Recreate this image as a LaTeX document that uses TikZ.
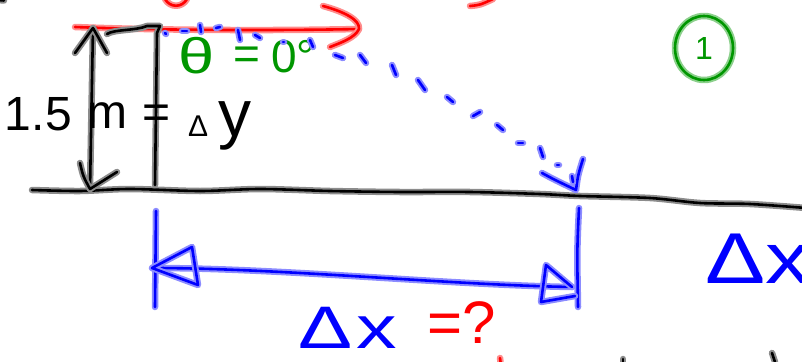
\documentclass[tikz,border=0pt]{standalone}
\usepackage{fontspec}
\setmainfont{Liberation Sans}
\usetikzlibrary{shapes.geometric}
\definecolor{inkblue}{RGB}{0,0,255}
\definecolor{inkred}{RGB}{255,0,0}
\definecolor{inkgreen}{RGB}{0,150,0}
\definecolor{inkblack}{RGB}{0,0,0}
\begin{document}
\begin{tikzpicture}[x=1pt,y=-1pt,
  pen/.style={draw=#1, line width=2.6pt, line cap=round, line join=round,
    preaction={draw=#1!45, line width=6.5pt, line cap=round, line join=round}},
  ink/.style={text=#1, inner sep=0pt, outer sep=0pt},
]
\useasboundingbox (0,0) rectangle (802,361);

% fragments at the edges
\draw[pen=inkred] (165,-1) .. controls (170,8) and (182,8) .. (187,-1);
\draw[pen=inkred] (470,6) .. controls (480,5) .. (493,-1);
\draw[pen=inkred] (500,358) -- (500.5,362);
\draw[pen=inkblack] (623,359) -- (623,362);
\draw[pen=inkblack] (772,353) -- (775,362);
\draw[pen=inkblack] (-2,0) -- (4,0.5);

% red velocity arrow
\coordinate (vStart) at (75,27);
\coordinate (vEnd) at (359,29);
\draw[pen=inkred] (vStart) .. controls (150,30) and (260,31) .. (vEnd);
\draw[pen=inkred] (323,6) .. controls (345,12) and (360,20) .. (vEnd) .. controls (355,38) and (340,43) .. (330,47);

% ground
\draw[pen=inkblack] plot[smooth] coordinates {(32,190) (80,191) (130,189) (200,191) (260,189) (330,191) (400,192) (470,192) (540,194) (580,196) (650,198) (700,203) (750,204) (806,208)};

% height double arrow
\coordinate (hTop) at (93,28);
\coordinate (hBot) at (90,189);
\draw[pen=inkblack] (hTop) -- (hBot);
\draw[pen=inkblack] (75,53) -- (hTop) -- (107,53);
\draw[pen=inkblack] (80,163) .. controls (83,176) .. (hBot) -- (117,172);

% cliff line
\coordinate (cTop) at (160,26);
\coordinate (cBot) at (155,185);
\draw[pen=inkblack] (107,34) .. controls (115,29) and (135,31) .. (147,26) -- (cTop) -- (157,33) -- (cBot);

% height label
\node[ink=inkblack, anchor=base west, font=\fontsize{48}{50}\selectfont] (h15) at (5,130) {1.5};
\node[ink=inkblack, anchor=base, font=\fontsize{48}{50}\selectfont] (hm) at (107,128) {m};
\node[ink=inkblack, anchor=base, font=\fontsize{48}{50}\selectfont] (heq) at (157,128) {=};
\node[ink=inkblack, anchor=base west] (hdy) at (188,136) {{\fontsize{30}{32}\selectfont Δ}\hspace{10pt}{\fontsize{66}{68}\selectfont y}};

% angle label
\node[ink=inkgreen, anchor=base, font=\fontsize{50}{54}\selectfont] (theta) at (197,73) {\scalebox{1.3}[1]{θ}};
\node[ink=inkgreen, anchor=base, font=\fontsize{46}{50}\selectfont] (thetaeq) at (247,70) {=};
\node[ink=inkgreen, anchor=base west, font=\fontsize{46}{50}\selectfont] (zero) at (271,72) {0°};

% circled number
\node[pen=inkgreen, ellipse, minimum width=58pt, minimum height=64pt, inner sep=0pt, text=inkgreen, font=\fontsize{32}{34}\selectfont] (circ) at (704,48) {1};

% blue dotted trajectory
\foreach \a/\b/\c/\d in {165/33/166/34, 182/31/187/31, 200/25/201/32, 216/28/220/27, 238/30/240/40, 255/35/260/38, 283/42/284/42, 310/40/313/47, 335/55/343/58, 360/55/366/63, 392/65/396/75, 418/80/425/90, 447/97/453/102, 473/116/480/112, 497/125/503/130, 518/143/523/143, 540/148/543/157, 557/165/559/165}
  \draw[pen=inkblue] (\a,\b) -- (\c,\d);
\coordinate (land) at (576,190);
\draw[pen=inkblue] (542,173) .. controls (555,180) .. (land) .. controls (578,175) .. (583,159);
\draw[pen=inkblue] (572,176) -- (573,182);

% horizontal distance
\coordinate (tL1) at (156,211);
\coordinate (tL2) at (155,307);
\coordinate (tR1) at (579,208);
\coordinate (tR2) at (578,307);
\draw[pen=inkblue] (tL1) -- (tL2);
\draw[pen=inkblue] (tR1) .. controls (577,250) .. (tR2);
\coordinate (dL) at (152,268);
\coordinate (dR) at (572,287);
\draw[pen=inkblue] (dL) .. controls (280,268) and (450,285) .. (dR);
\draw[pen=inkblue] (dL) -- (192,247) -- (198,285) -- cycle;
\draw[pen=inkblue] (dR) -- (546,265) -- (541,302) -- (575,296);

\node[ink=inkblue, anchor=base west, font=\fontsize{60}{62}\selectfont] (dx) at (298,348) {\scalebox{1.35}[1]{Δ\hspace{3pt}x}};
\node[ink=inkred, anchor=base west, font=\fontsize{60}{62}\selectfont] (unk) at (427,343) {=?};
\node[ink=inkblue, anchor=base west, font=\fontsize{72}{74}\selectfont] (dx2) at (705,283) {\scalebox{1.25}[1]{Δx}};
\end{tikzpicture}
\end{document}
